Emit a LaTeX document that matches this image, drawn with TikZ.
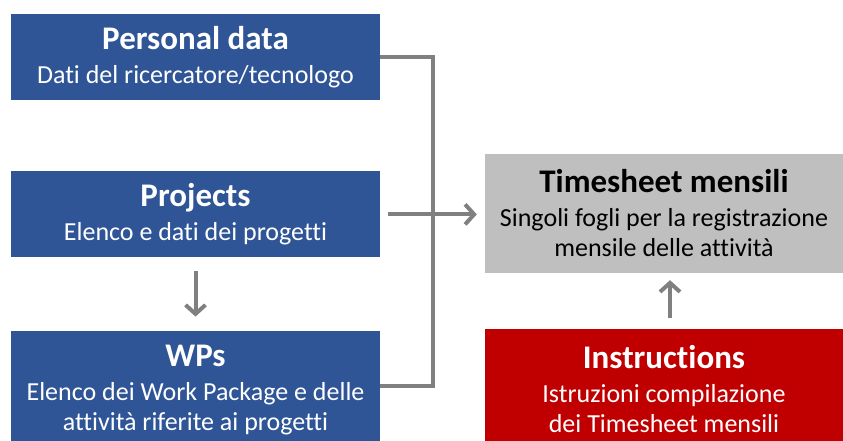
\documentclass[tikz,border=0pt]{standalone}
\usepackage{fontspec}
\setmainfont{Carlito}[Ligatures=NoCommon]
\usepackage{tikz}
\usetikzlibrary{arrows.meta, positioning}
\definecolor{databoxcolor}{HTML}{2F5597}
\definecolor{sheetcolor}{HTML}{BFBFBF}
\definecolor{instrcolor}{HTML}{C00000}
\definecolor{linkcolor}{HTML}{808080}
\newcommand{\boxtitle}[1]{{\fontsize{33}{36}\selectfont\bfseries #1}}

\begin{document}
\begin{tikzpicture}[
    x=1pt, y=1pt,
    box/.style={rectangle, inner sep=0pt, align=center, font=\fontsize{26}{30}\selectfont},
    databox/.style={box, fill=databoxcolor, text=white, minimum width=369pt, minimum height=86pt},
    sheetbox/.style={box, minimum width=358pt, minimum height=119pt},
    link/.style={draw=linkcolor, line width=4pt},
    arrow/.style={link, -{Straight Barb[length=9pt, width=20pt]}}
]
    \useasboundingbox (0,0) rectangle (843,441);

    \node[databox] (personal) at (195.5,384) {\boxtitle{Personal data}\\[4pt]Dati del ricercatore/tecnologo};
    \node[databox, below=71pt of personal] (projects) {\boxtitle{Projects}\\[4pt]Elenco e dati dei progetti};
    \node[databox, below=73pt of projects, minimum height=119pt] (wps) {\boxtitle{WPs}\\[4pt]Elenco dei Work Package e delle\\attività riferite ai progetti};
    \node[sheetbox, fill=sheetcolor] (timesheet) at (664,227.5) {\boxtitle{Timesheet mensili}\\[4pt]Singoli fogli per la registrazione\\mensile delle attività};
    \node[sheetbox, fill=instrcolor, text=white, below=56pt of timesheet] (instructions) {\boxtitle{Instructions}\\[4pt]Istruzioni compilazione\\dei Timesheet mensili};

    \draw[link] (personal.east) -- ++(53,0) |- ([yshift=4.5pt]wps.east);
    \draw[arrow, shorten >=8pt] ([xshift=8pt]projects.east) -- (projects.east -| timesheet.west);
    \draw[arrow, shorten <=13pt, shorten >=14pt] (projects) -- (wps);
    \draw[arrow, shorten <=11pt, shorten >=7pt] ([xshift=6pt]instructions.north) -- ([xshift=6pt]timesheet.south);
\end{tikzpicture}
\end{document}
